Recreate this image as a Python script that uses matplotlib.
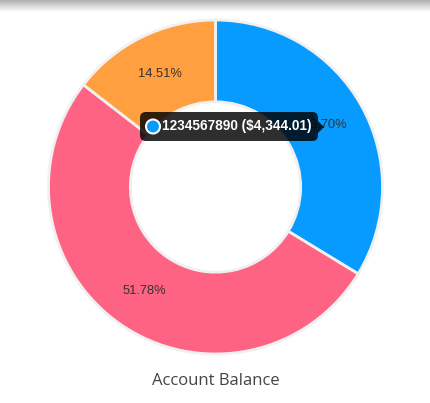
import matplotlib
matplotlib.use("Agg")
import matplotlib.pyplot as plt
import numpy as np
from matplotlib.patches import FancyBboxPatch, Circle, Polygon

# Dados do gráfico
labels = ["1234567890", "Conta B", "Conta C"]
valores = [33.70, 51.78, 14.51]
cores = ["#089BFF", "#FF6384", "#FF9F40"]
titulo = "Account Balance"
tooltip_txt = "1234567890 ($4,344.01)"

W, H = 431, 403
fig = plt.figure(figsize=(W / 100, H / 100), dpi=100)
fig.patch.set_facecolor("white")

# sombra no topo
sh = fig.add_axes([0, 1 - 12 / H, 1, 12 / H])
grad = np.linspace(0.62, 1.0, 60) ** 0.8
sh.imshow(grad[:, None] * np.ones((1, 10)), cmap="gray", vmin=0, vmax=1,
          aspect="auto", extent=[0, 1, 0, 1])
sh.axis("off")

# rosca
cx, cy, R = 215.5, 187, 167
ax = fig.add_axes([(cx - R) / W, (H - cy - R) / H, 2 * R / W, 2 * R / H])
it = iter(valores)
wedges, _, autotexts = ax.pie(
    valores, colors=cores, startangle=90, counterclock=False,
    radius=1.0, autopct=lambda p: f"{next(it):.2f}%", pctdistance=0.755,
    wedgeprops=dict(width=0.49, edgecolor="#f0f0f0", linewidth=2),
    textprops=dict(fontsize=9.3, color="#333333", family="Liberation Sans"),
)
ax.set_xlim(-1, 1)
ax.set_ylim(-1, 1)
ax.set_aspect("auto")
ax.axis("off")

def px(x, y):
    return (x - cx) / R, (cy - y) / R

# tooltip
x0, y0 = px(140, 141)
x1, y1 = px(318, 112)
box = FancyBboxPatch((x0, y0), x1 - x0, y1 - y0,
                     boxstyle="round,pad=0,rounding_size=0.035",
                     facecolor=(0, 0, 0, 0.82), edgecolor="none", zorder=5)
ax.add_patch(box)
car = Polygon([px(318, 121), px(324, 127), px(318, 133)], closed=True,
              facecolor=(0, 0, 0, 0.82), edgecolor="none", zorder=5)
ax.add_patch(car)
ccx, ccy = px(153, 126.5)
ax.add_patch(Circle((ccx, ccy), 7 / R, facecolor=cores[0], edgecolor="white",
                    linewidth=1.5, zorder=6))
tx, ty = px(162, 126.5)
ax.text(tx, ty, tooltip_txt, color="white", fontsize=9.8, fontweight="bold",
        family="Liberation Sans", ha="left", va="center", zorder=7)

fig.text(cx / W, 1 - 381 / H, titulo, ha="center", va="center",
         fontsize=12, color="#444444", family="Open Sans")

fig.savefig("out.png", dpi=100, facecolor="white")
